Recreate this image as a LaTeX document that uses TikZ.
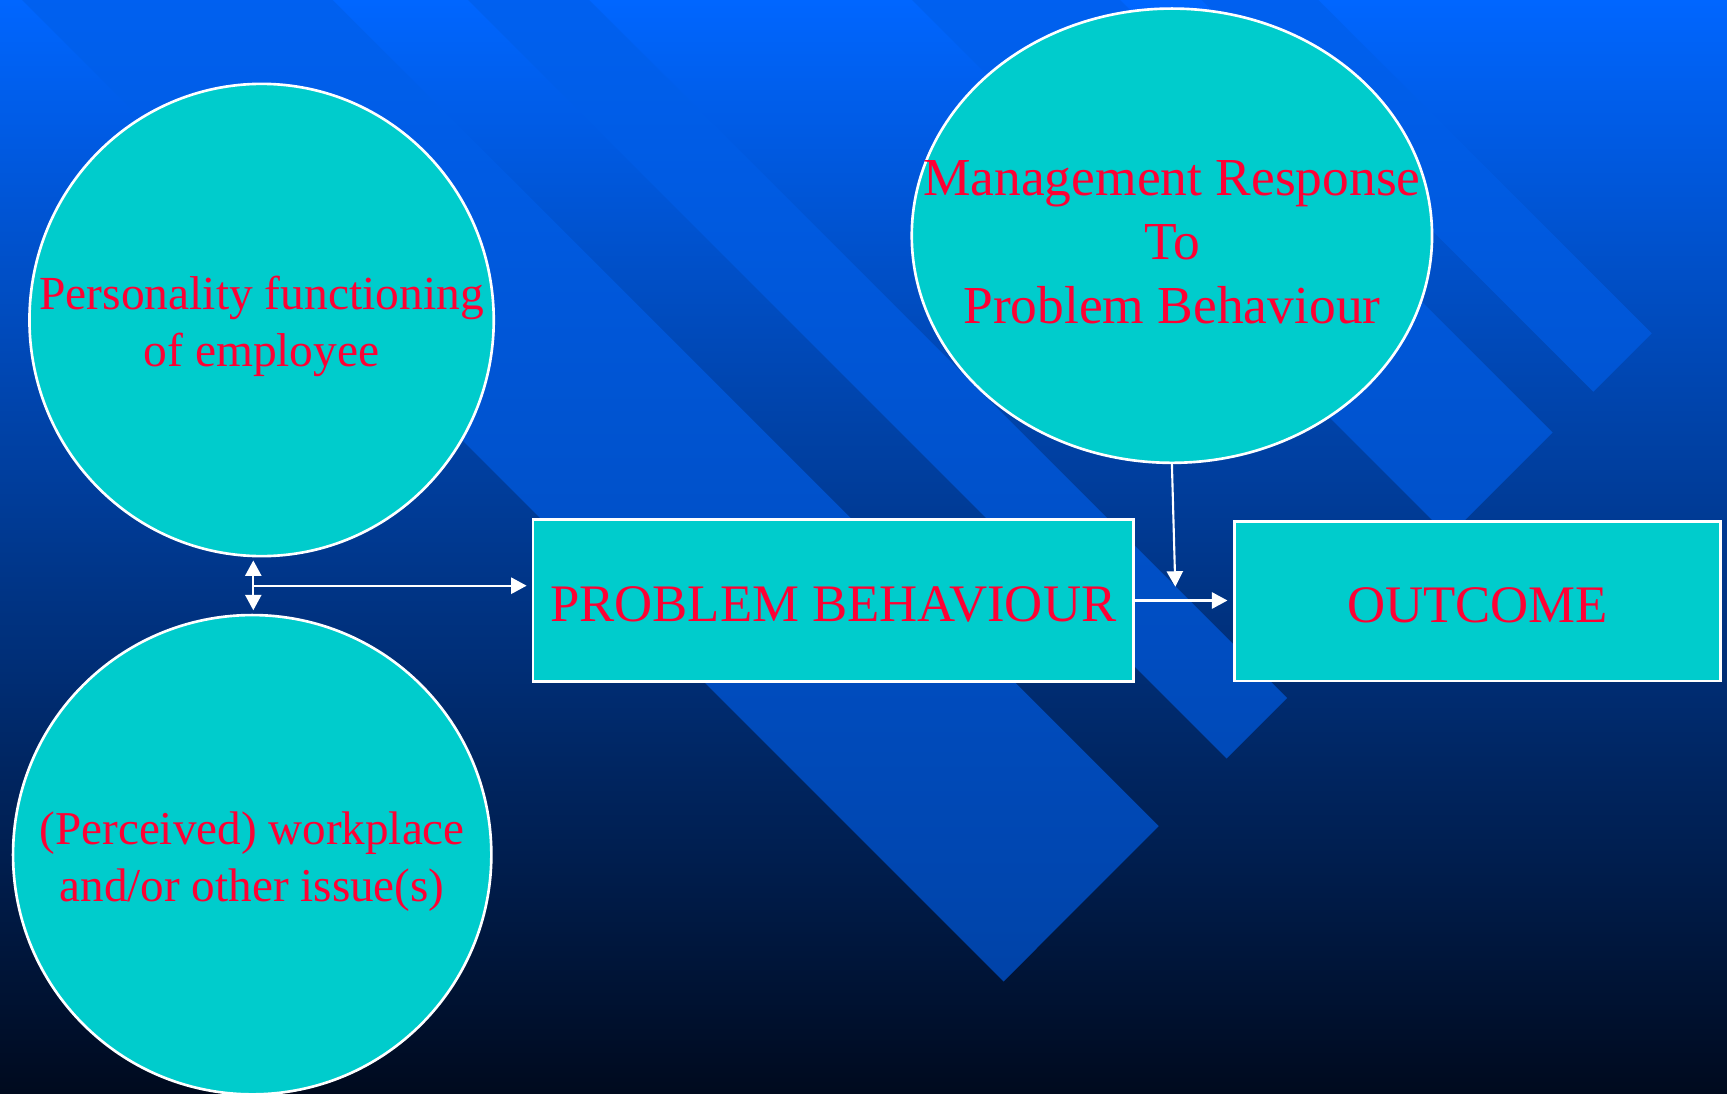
\documentclass[tikz,border=0pt]{standalone}
\usepackage{fontspec}
\setmainfont{Liberation Serif}
\usetikzlibrary{shapes.geometric, arrows.meta}
\definecolor{slidetop}{RGB}{0,102,255}
\definecolor{slidemid}{RGB}{0,62,165}
\definecolor{slidebot}{RGB}{0,10,30}
\definecolor{stripe}{RGB}{0,94,232}
\definecolor{bubblefill}{RGB}{0,204,204}
\definecolor{labelred}{RGB}{255,0,51}

\begin{document}
\begin{tikzpicture}[x=0.01cm, y=-0.01cm,
    bubble/.style={ellipse, draw=white, line width=0.75pt, fill=bubblefill, inner sep=0pt},
    panel/.style={rectangle, draw=white, line width=0.8pt, fill=bubblefill, inner sep=0pt, text=labelred, text height=12.2pt, text depth=0pt},
    lbl/.style={text=labelred, align=center, inner sep=0pt, yshift=-0.065cm},
    link/.style={draw=white, line width=0.6pt, -{Triangle[length=4.4pt, width=4.6pt]}},
    bilink/.style={draw=white, line width=0.6pt, {Triangle[length=4.4pt, width=4.6pt]}-{Triangle[length=4.4pt, width=4.6pt]}}]
    \useasboundingbox (0,0) rectangle (1727,1094);
    \shade[top color=slidetop, middle color=slidemid, bottom color=slidebot] (0,0) rectangle (1727,1094);
    \fill[stripe, fill opacity=.645] (22,0) -- (1003.5,981.5) -- (1158.7,826.2) -- (332.6,0) -- cycle;
    \fill[stripe, fill opacity=.645] (468,0) -- (1226.5,758.5) -- (1287,698) -- (589,0) -- cycle;
    \fill[stripe, fill opacity=.645] (912,0) -- (1448.5,536.5) -- (1552.5,432.5) -- (1120,0) -- cycle;
    \fill[stripe, fill opacity=.645] (1201.6,0) -- (1593.3,391.7) -- (1651.7,333.3) -- (1318.4,0) -- cycle;

    \node[bubble, minimum width=4.64cm, minimum height=4.72cm] (pers) at (261.6,320) {};
    \node[lbl, font=\fontsize{13.5}{16.2}\selectfont] (perslbl) at (pers) {Personality functioning\\of employee};
    \node[bubble, minimum width=4.78cm, minimum height=4.79cm] (perc) at (252.2,854.7) {};
    \node[lbl, font=\fontsize{13.4}{16.2}\selectfont] (perclbl) at (perc) {(Perceived) workplace\\and/or other issue(s)};
    \node[bubble, minimum width=5.2cm, minimum height=4.54cm] (mgmt) at (1171.9,235.7) {};
    \node[lbl, font=\fontsize{15.2}{18.2}\selectfont] (mgmtlbl) at (mgmt) {Management Response\\To\\Problem Behaviour};
    \node[panel, minimum width=6.0cm, minimum height=1.62cm, font=\fontsize{15}{18}\selectfont] (prob) at (833.2,600.5) {PROBLEM BEHAVIOUR};
    \node[panel, minimum width=4.86cm, minimum height=1.59cm, font=\fontsize{15}{18}\selectfont] (outcome) at (1477.5,601.4) {OUTCOME};

    \coordinate (junc) at (253.3,585.7);
    \coordinate (drop) at (1175.3,586.7);
    \draw[bilink, shorten <=0.03cm, shorten >=0.035cm] (junc |- pers.south) -- (junc |- perc.north);
    \draw[link, shorten >=0.05cm] (junc) -- (junc -| prob.west);
    \draw[link] (mgmt.south) -- (drop);
    \draw[link, shorten >=0.055cm] (prob.east) -- (prob.east -| outcome.west);
\end{tikzpicture}
\end{document}
